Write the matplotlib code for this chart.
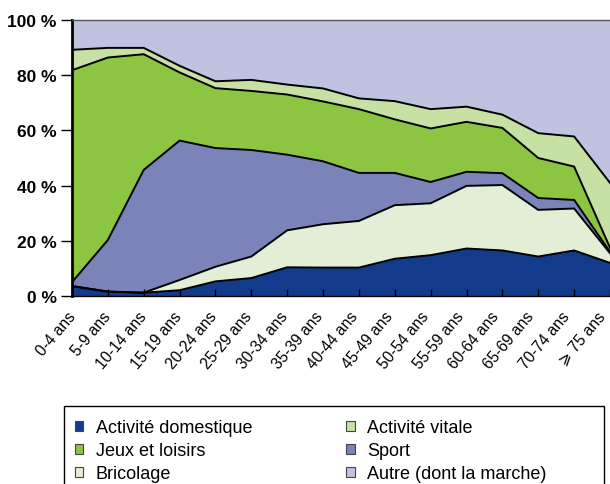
import numpy as np
import matplotlib
matplotlib.use('Agg')
import matplotlib.pyplot as plt
from matplotlib.patches import Rectangle, Patch

plt.rcParams['font.family'] = ['Liberation Sans', 'DejaVu Sans']

# age groups
ages = ['0-4 ans', '5-9 ans', '10-14 ans', '15-19 ans', '20-24 ans', '25-29 ans',
        '30-34 ans', '35-39 ans', '40-44 ans', '45-49 ans', '50-54 ans', '55-59 ans',
        '60-64 ans', '65-69 ans', '70-74 ans', '\u2a7e 75 ans']

# share of accidents by activity (%)
domestique = [3.6, 1.6, 1.2, 2.1, 5.3, 6.5, 10.4, 10.3, 10.3, 13.5, 14.8, 17.2, 16.5, 14.3, 16.5, 12.0]
bricolage = [0.0, 0.0, 0.0, 3.7, 5.3, 7.8, 13.4, 15.7, 16.9, 19.4, 18.8, 22.7, 23.7, 16.9, 15.2, 3.5]
sport = [1.4, 18.7, 44.5, 50.5, 43.0, 38.6, 27.4, 22.8, 17.4, 11.7, 7.7, 5.1, 4.3, 4.3, 3.1, 0.5]
jeux = [76.8, 66.1, 41.9, 24.7, 21.7, 21.4, 21.8, 21.7, 23.1, 19.4, 19.4, 18.1, 16.4, 14.5, 12.1, 1.5]
vitale = [7.4, 3.5, 2.3, 2.4, 2.5, 4.0, 3.6, 4.7, 3.9, 6.6, 7.0, 5.5, 4.8, 9.0, 10.9, 23.5]
autre = [10.8, 10.1, 10.1, 16.6, 22.2, 21.7, 23.4, 24.8, 28.4, 29.4, 32.3, 31.4, 34.3, 41.0, 42.2, 59.0]

series = [domestique, bricolage, sport, jeux, vitale, autre]
colors = ['#133b8b', '#e2efd6', '#7b83b9', '#8cc541', '#c6e1a3', '#c0c3e0']

fig = plt.figure(figsize=(6.1, 4.85), dpi=100)
ax = fig.add_axes([72 / 610, 1 - 297 / 485, 1 - 72 / 610, 276 / 485])

x = np.arange(len(ages))
ax.stackplot(x, *series, colors=colors, linewidth=0)

# black outlines between layers
cum = np.cumsum(np.array(series), axis=0)
for row in cum[:-1]:
    ax.plot(x, row, color='black', lw=1.4, solid_joinstyle='miter')

ax.set_xlim(0, len(ages) - 1)
ax.set_ylim(0, 100)

ax.set_yticks([0, 20, 40, 60, 80, 100])
ax.set_yticklabels(['0 %', '20 %', '40 %', '60 %', '80 %', '100 %'],
                   fontsize=12.5, fontweight='bold')
ax.set_xticks(x)
ax.set_xticklabels([])

ax.tick_params(axis='y', direction='out', length=8, width=1, pad=3)
ax.tick_params(axis='x', direction='in', length=5, width=1)

# rotated age labels under the ticks (they drift slightly left towards the right)
for i, lab in enumerate(ages):
    ax.annotate(lab, xy=(i, 0), xycoords=('data', 'axes fraction'),
                xytext=(-3.5 - 0.43 * i, -9), textcoords='offset points',
                rotation=50, rotation_mode='anchor', ha='right', va='top',
                fontsize=11.2, annotation_clip=False)

ax.spines['right'].set_visible(False)
ax.spines['top'].set_color('#555555')
ax.spines['top'].set_linewidth(1)
ax.spines['left'].set_color('black')
ax.spines['left'].set_linewidth(2)
ax.spines['bottom'].set_color('black')
ax.spines['bottom'].set_linewidth(1)

# legend box
fig.patches.append(Rectangle((64 / 610, -0.05), 540 / 610, 0.05 + 1 - 407 / 485,
                             transform=fig.transFigure, fill=False,
                             edgecolor='black', lw=1, clip_on=False))

labels = ['Activité domestique', 'Jeux et loisirs', 'Bricolage',
          'Activité vitale', 'Sport', 'Autre (dont la marche)']
lcolors = [colors[0], colors[3], colors[1], colors[4], colors[2], colors[5]]
handles = [Patch(facecolor=c, edgecolor='#444444', lw=0.8) for c in lcolors]
fig.legend(handles, labels, ncol=2, frameon=False, fontsize=13,
           loc='upper left', bbox_to_anchor=(68 / 610, 1 - 413 / 485),
           handlelength=0.45, handleheight=0.45, handletextpad=0.7,
           labelspacing=0.33, columnspacing=5.2, borderaxespad=0)

fig.savefig('out.png', dpi=100)
